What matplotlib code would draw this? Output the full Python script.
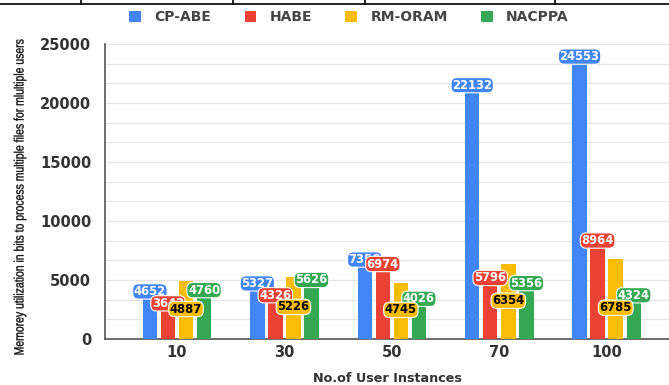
import numpy as np
import matplotlib
matplotlib.use("Agg")
import matplotlib.pyplot as plt
from matplotlib.lines import Line2D
from matplotlib.ticker import MultipleLocator
from matplotlib.textpath import TextPath
from matplotlib.patches import PathPatch
from matplotlib.font_manager import FontProperties
from matplotlib.transforms import Affine2D

# memory usage per scheme for each number of user instances
instances = ["10", "30", "50", "70", "100"]
cp_abe = [4652, 5327, 7356, 22132, 24553]
habe = [3642, 4326, 6974, 5796, 8964]
rm_oram = [4887, 5226, 4745, 6354, 6785]
nacppa = [4760, 5626, 4026, 5356, 4324]

series = [
    ("CP-ABE", cp_abe, "#4285F4", "white"),
    ("HABE", habe, "#EA4335", "white"),
    ("RM-ORAM", rm_oram, "#FBBC04", "black"),
    ("NACPPA", nacppa, "#34A853", "white"),
]
# where the RM-ORAM labels sit, as a fraction of bar height
oram_label_frac = [0.52, 0.52, 0.52, 0.51, 0.39]

W, H = 669, 385
fig = plt.figure(figsize=(W / 100, H / 100), dpi=100)
ax = fig.add_axes([105 / W, 1 - 339 / H, 1 - 105 / W, (339 - 44) / H])

x = np.arange(len(instances))
pitch = 0.168
width = 0.135

for i, (name, vals, col, tcol) in enumerate(series):
    pos = x + (i - 1.5) * pitch
    ax.bar(pos, vals, width=width, color=col, label=name, zorder=3)
    mid = name == "RM-ORAM"
    for j, (px, v) in enumerate(zip(pos, vals)):
        # yellow labels sit inside the bar, the rest just under the bar top
        ly = v * oram_label_frac[j] if mid else v - 620
        ax.text(px, ly, f"{v}", ha="center", va="center", fontsize=8.3,
                fontweight="bold", color=tcol, zorder=6 if mid else 5,
                bbox=dict(boxstyle="round,pad=0.1,rounding_size=0.5",
                          fc=col, ec="white", lw=0.8))

ax.set_xlim(-0.67, 4.58)
ax.set_ylim(0, 25000)
ax.yaxis.set_major_locator(MultipleLocator(5000))
ax.yaxis.set_minor_locator(MultipleLocator(5000 / 3))
ax.grid(axis="y", which="both", color="#e6e6e6", lw=1, zorder=0)
ax.set_xticks(x)
ax.set_xticklabels(instances)
ax.tick_params(axis="both", which="both", length=0, labelsize=10.5,
               labelcolor="#333333")
ax.tick_params(axis="x", pad=4)
ax.tick_params(axis="y", pad=10)
for lab in ax.get_xticklabels() + ax.get_yticklabels():
    lab.set_fontweight("bold")

for s in ["top", "right"]:
    ax.spines[s].set_visible(False)
for s in ["left", "bottom"]:
    ax.spines[s].set_color("#555555")
    ax.spines[s].set_linewidth(1.2)

ax.set_xlabel("No.of User Instances", fontsize=9.2, fontweight="bold",
              color="#333333", labelpad=9)

# condensed y label, drawn as a path squeezed along its length
ylab = "Memorey utilization in bits to process multiple files for mlultiple users"
tp = TextPath((0, 0), ylab, size=13.5, prop=FontProperties(family="Liberation Sans"))
bb = tp.get_extents()
sx = 315 / bb.width
tr = (Affine2D().translate(-bb.x0 - bb.width / 2, -4.0)
      .scale(sx, 1).rotate_deg(90).translate(19.5, H - 197))
fig.add_artist(PathPatch(tp, transform=tr, fc="#111111", ec="#111111", lw=0.25))

leg = fig.legend(loc="center", bbox_to_anchor=(349 / W, 1 - 17 / H), ncol=4,
                 frameon=False, handlelength=0.85, handleheight=0.85,
                 handletextpad=0.95, columnspacing=2.4,
                 prop=dict(weight="bold", size=10))
for t in leg.get_texts():
    t.set_color("#444444")

# table border above the chart
fig.add_artist(Line2D([0, 1], [1 - 4 / H, 1 - 4 / H], color="black", lw=1.2))
for xp in [81, 233, 365, 555]:
    fig.add_artist(Line2D([xp / W, xp / W], [1 - 4 / H, 1], color="black", lw=1.2))

fig.savefig("out.png", dpi=100)
